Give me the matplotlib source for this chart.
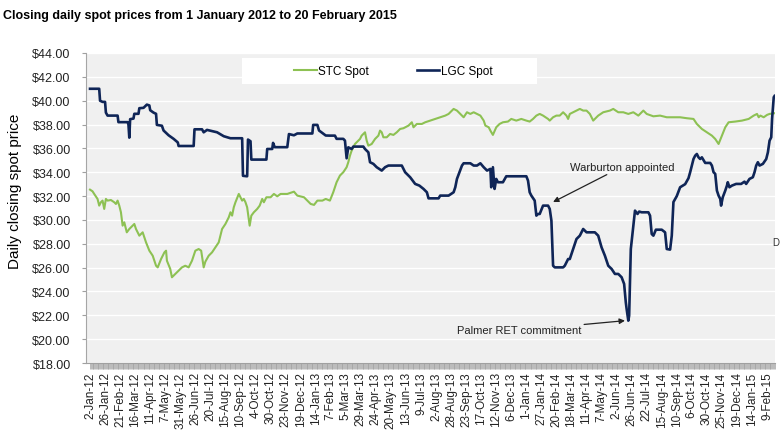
import matplotlib
matplotlib.use("Agg")
import matplotlib.pyplot as plt
from matplotlib import font_manager
from matplotlib.patches import Rectangle

plt.rcParams['font.family'] = ['Liberation Sans', 'DejaVu Sans']

# trading-day index (0 = 2-Jan-12, 819 = 20-Feb-15) and closing prices
stc_day = [0, 3, 5, 9, 11, 13, 15, 17, 19, 21, 25, 29, 31, 33, 35, 37, 39, 41, 44, 47,
           49, 53, 55, 59, 63, 67, 71, 75, 79, 81, 85, 89, 91, 92, 96, 98, 102, 106, 110, 114,
           118, 122, 126, 130, 133, 136, 138, 142, 146, 150, 154, 158, 162, 166, 168, 170, 172, 174, 178, 180,
           182, 184, 186, 188, 191, 193, 196, 200, 203, 206, 208, 211, 216, 220, 224, 228, 236, 244, 248, 256,
           264, 268, 272, 278, 282, 287, 291, 295, 299, 303, 307, 309, 311, 313, 317, 321, 323, 325, 327, 329,
           331, 333, 337, 341, 345, 347, 349, 351, 355, 359, 363, 367, 371, 375, 381, 385, 387, 391, 397, 401,
           407, 413, 419, 425, 429, 433, 435, 439, 443, 447, 451, 455, 459, 463, 467, 471, 473, 477, 479, 482,
           486, 490, 494, 500, 504, 510, 516, 522, 526, 530, 534, 538, 542, 548, 550, 554, 558, 562, 566, 570,
           572, 574, 578, 582, 586, 590, 594, 598, 602, 608, 614, 622, 626, 632, 638, 644, 650, 656, 660, 662,
           666, 674, 682, 690, 698, 706, 714, 722, 726, 732, 738, 744, 748, 752, 756, 760, 764, 772, 780, 788,
           794, 798, 800, 802, 806, 810, 813, 819]
stc_price = [32.54, 32.4, 32.18, 31.76, 31.2, 31.48, 31.62, 30.92, 31.76, 31.62, 31.67, 31.48, 31.34, 31.62, 31.2, 30.64, 29.52, 29.8, 28.96, 29.24,
             29.38, 29.66, 29.24, 28.68, 28.96, 28.12, 27.42, 27.0, 26.16, 26.02, 26.72, 27.28, 27.42, 26.58, 25.89, 25.19, 25.47, 25.75, 26.02, 26.16,
             26.02, 26.58, 27.42, 27.56, 27.42, 26.02, 26.5, 27.0, 27.28, 27.7, 28.12, 29.24, 29.66, 30.22, 30.64, 30.36, 31.06, 31.48, 32.18, 31.9,
             31.62, 31.76, 31.48, 31.06, 29.52, 30.36, 30.64, 30.92, 31.2, 31.76, 31.48, 31.9, 31.9, 32.18, 31.98, 32.18, 32.18, 32.37, 32.04, 31.9,
             31.34, 31.26, 31.62, 31.62, 31.76, 31.62, 32.32, 33.16, 33.72, 34.0, 34.42, 34.84, 35.39, 35.81, 36.37, 36.65, 36.79, 37.07, 37.21, 37.35,
             36.65, 36.23, 36.37, 36.79, 37.07, 37.49, 37.35, 36.93, 36.93, 37.21, 37.13, 37.35, 37.63, 37.69, 37.91, 38.19, 37.77, 38.05, 38.05, 38.19,
             38.33, 38.47, 38.61, 38.75, 38.89, 39.17, 39.31, 39.17, 38.89, 38.61, 39.03, 38.89, 39.03, 38.89, 38.75, 38.33, 37.91, 37.77, 37.49, 37.13,
             37.77, 38.05, 38.19, 38.25, 38.47, 38.33, 38.47, 38.33, 38.25, 38.47, 38.75, 38.89, 38.75, 38.47, 38.33, 38.61, 38.75, 38.75, 39.03, 38.75,
             38.47, 38.89, 39.03, 39.17, 39.31, 39.17, 39.17, 38.89, 38.33, 38.75, 39.03, 39.17, 39.31, 39.03, 39.03, 38.89, 39.03, 38.75, 39.03, 39.17,
             38.89, 38.69, 38.75, 38.61, 38.61, 38.61, 38.53, 38.47, 38.05, 37.63, 37.35, 37.07, 36.79, 36.37, 37.07, 37.77, 38.19, 38.25, 38.33, 38.47,
             38.75, 38.89, 38.61, 38.75, 38.61, 38.81, 38.89, 38.95]

lgc_day = [0, 11, 12, 15, 18, 19, 21, 33, 34, 45, 46, 47, 48, 52, 53, 58, 59, 64, 68, 71,
           72, 76, 79, 80, 86, 88, 94, 100, 105, 106, 124, 125, 134, 136, 140, 146, 152, 160, 168, 182,
           183, 188, 189, 192, 193, 211, 212, 218, 219, 221, 236, 238, 244, 248, 266, 267, 272, 274, 282, 287,
           293, 295, 303, 305, 307, 309, 313, 315, 327, 329, 333, 335, 339, 343, 349, 353, 357, 373, 377, 383,
           389, 394, 399, 403, 405, 417, 419, 429, 435, 437, 439, 445, 447, 455, 459, 463, 467, 471, 475, 479,
           480, 482, 484, 486, 488, 494, 498, 522, 524, 526, 528, 532, 534, 536, 538, 542, 548, 550, 552, 554,
           556, 566, 568, 572, 574, 578, 582, 586, 590, 594, 597, 604, 608, 612, 616, 620, 624, 628, 632, 636,
           639, 641, 642, 644, 645, 647, 649, 651, 652, 655, 657, 660, 668, 670, 672, 674, 677, 684, 688, 690,
           694, 696, 698, 702, 706, 712, 716, 718, 722, 724, 726, 728, 730, 732, 736, 742, 744, 746, 748, 750,
           752, 754, 755, 757, 760, 762, 763, 765, 768, 773, 779, 783, 785, 789, 793, 795, 797, 799, 801, 805,
           809, 811, 813, 815, 816, 818, 819]
lgc_price = [41.0, 41.0, 40.0, 39.9, 39.9, 39.0, 38.75, 38.75, 38.2, 38.2, 38.0, 36.9, 38.45, 38.5, 38.9, 38.9, 39.37, 39.4, 39.67, 39.6,
             39.2, 39.0, 38.9, 37.97, 37.9, 37.5, 37.1, 36.8, 36.5, 36.2, 36.2, 37.6, 37.6, 37.35, 37.55, 37.45, 37.35, 37.02, 36.85, 36.85,
             33.7, 33.66, 36.74, 36.6, 35.06, 35.06, 35.95, 35.95, 36.46, 36.1, 36.1, 37.2, 37.1, 37.25, 37.25, 37.97, 37.97, 37.5, 37.08, 37.07,
             37.07, 36.8, 36.8, 36.65, 35.17, 36.09, 35.95, 36.15, 36.15, 35.95, 35.67, 34.84, 34.7, 34.42, 34.14, 34.42, 34.56, 34.56, 34.0, 33.58,
             33.02, 32.88, 32.6, 32.32, 31.81, 31.81, 32.04, 32.04, 32.32, 32.74, 33.44, 34.56, 34.75, 34.75, 34.56, 34.56, 34.75, 34.42, 34.14, 34.28,
             32.74, 34.42, 32.6, 33.44, 33.16, 33.16, 33.66, 33.66, 33.3, 32.32, 32.04, 31.62, 30.36, 30.5, 30.5, 31.2, 31.2, 30.92, 29.94, 26.16,
             26.02, 26.02, 26.16, 26.72, 26.72, 27.56, 28.4, 28.68, 29.24, 28.96, 28.96, 28.96, 28.68, 27.7, 27.0, 26.16, 25.89, 25.47, 25.47, 25.19,
             24.63, 23.09, 22.53, 21.55, 21.97, 27.56, 28.82, 30.08, 30.78, 30.5, 30.7, 30.64, 30.64, 30.36, 28.82, 28.68, 29.18, 29.18, 28.96, 27.56,
             27.51, 28.68, 31.5, 32.0, 32.74, 33.0, 33.5, 34.0, 35.11, 35.39, 35.53, 35.25, 35.11, 35.25, 34.78, 34.78, 34.56, 34.0, 33.86, 32.46,
             32.04, 31.76, 31.2, 31.9, 32.46, 32.88, 33.16, 32.74, 32.88, 33.02, 33.02, 33.21, 33.02, 33.44, 33.58, 34.0, 34.56, 34.84, 34.56, 34.7,
             35.11, 35.67, 36.65, 36.93, 38.47, 40.29, 40.4]

tick_labels = ['2-Jan-12', '26-Jan-12', '21-Feb-12', '16-Mar-12', '11-Apr-12', '7-May-12', '31-May-12',
               '26-Jun-12', '20-Jul-12', '15-Aug-12', '10-Sep-12', '4-Oct-12', '30-Oct-12', '23-Nov-12',
               '19-Dec-12', '14-Jan-13', '7-Feb-13', '5-Mar-13', '29-Mar-13', '24-Apr-13', '20-May-13',
               '13-Jun-13', '9-Jul-13', '2-Aug-13', '28-Aug-13', '23-Sep-13', '17-Oct-13', '12-Nov-13',
               '6-Dec-13', '1-Jan-14', '27-Jan-14', '20-Feb-14', '18-Mar-14', '11-Apr-14', '7-May-14',
               '2-Jun-14', '26-Jun-14', '22-Jul-14', '15-Aug-14', '10-Sep-14', '6-Oct-14', '30-Oct-14',
               '25-Nov-14', '19-Dec-14', '14-Jan-15', '9-Feb-15']
LABEL_EVERY = 18   # one label every 18 trading days
N_DAYS = 820

# title is in a narrow bold face; fall back to a smaller regular width face
try:
    font_manager.findfont('Liberation Sans Narrow', fallback_to_default=False)
    title_font, title_size = ['Liberation Sans Narrow', 'Liberation Sans'], 11
except ValueError:
    title_font, title_size = ['Liberation Sans', 'DejaVu Sans'], 9

fig = plt.figure(figsize=(7.8, 4.35), dpi=100)
ax = fig.add_axes([86 / 780, 1 - 364 / 435, 689 / 780, 310 / 435])
ax.set_facecolor('#f0f0f0')

ax.plot(stc_day, stc_price, color='#8dc153', linewidth=1.5, label='STC Spot', zorder=3)
ax.plot(lgc_day, lgc_price, color='#0f2557', linewidth=1.9, label='LGC Spot', zorder=4)

ax.set_xlim(-4.8, 819.5)
ax.set_ylim(18, 44)
ax.set_yticks(range(18, 45, 2))
ax.set_yticklabels(['$%.2f' % v for v in range(18, 45, 2)], fontsize=9, color='#222222')
ax.set_xticks([i * LABEL_EVERY for i in range(len(tick_labels))])
ax.set_xticklabels(tick_labels, rotation=90, fontsize=8.5, color='#222222', ha='center', va='top')
ax.set_xticks(range(N_DAYS), minor=True)
ax.tick_params(axis='x', which='both', length=4, width=0.5, color='#a0a0a0', pad=2)
ax.tick_params(axis='y', length=3, width=0.8, color='#a0a0a0', pad=8)

ax.grid(axis='y', color='white', linewidth=1.0)
ax.set_axisbelow(True)
for side in ['top', 'right']:
    ax.spines[side].set_visible(False)
ax.spines['left'].set_color('#a6a6a6')
ax.spines['bottom'].set_color('#a0a0a0')

# legend box
ax.add_patch(Rectangle((0.226, 0.9), 0.428, 0.084, transform=ax.transAxes,
                       facecolor='white', edgecolor='none', zorder=5))
leg = ax.legend(loc='center', bbox_to_anchor=(0.446, 0.942), ncol=2, frameon=False,
                fontsize=8.5, handlelength=1.9, handletextpad=0.1, columnspacing=4.1)
leg.set_zorder(6)

arrow = dict(arrowstyle='-|>', color='#222222', lw=0.9, mutation_scale=8, shrinkA=0, shrinkB=0)
ax.annotate('Warburton appointed', xy=(554, 31.5), xytext=(574, 34.45),
            fontsize=8, color='#222222', va='center', ha='left', arrowprops=arrow, zorder=6)
ax.annotate('Palmer RET commitment', xy=(640, 21.55), xytext=(439, 20.73),
            fontsize=8, color='#222222', va='center', ha='left', arrowprops=arrow, zorder=6)

fig.text(3 / 780, 1 - 16 / 435, 'Closing daily spot prices from 1 January 2012 to 20 February 2015',
         family=title_font, fontsize=title_size, fontweight='bold', ha='left', va='center', color='black')
fig.text(15 / 780, 1 - 191 / 435, 'Daily closing spot price', rotation=90,
         fontsize=11, ha='center', va='center', color='black')
fig.text(779 / 780, 1 - 243 / 435, 'D', fontsize=7, ha='right', va='center', color='#333333')

fig.savefig('out.png', dpi=100)
